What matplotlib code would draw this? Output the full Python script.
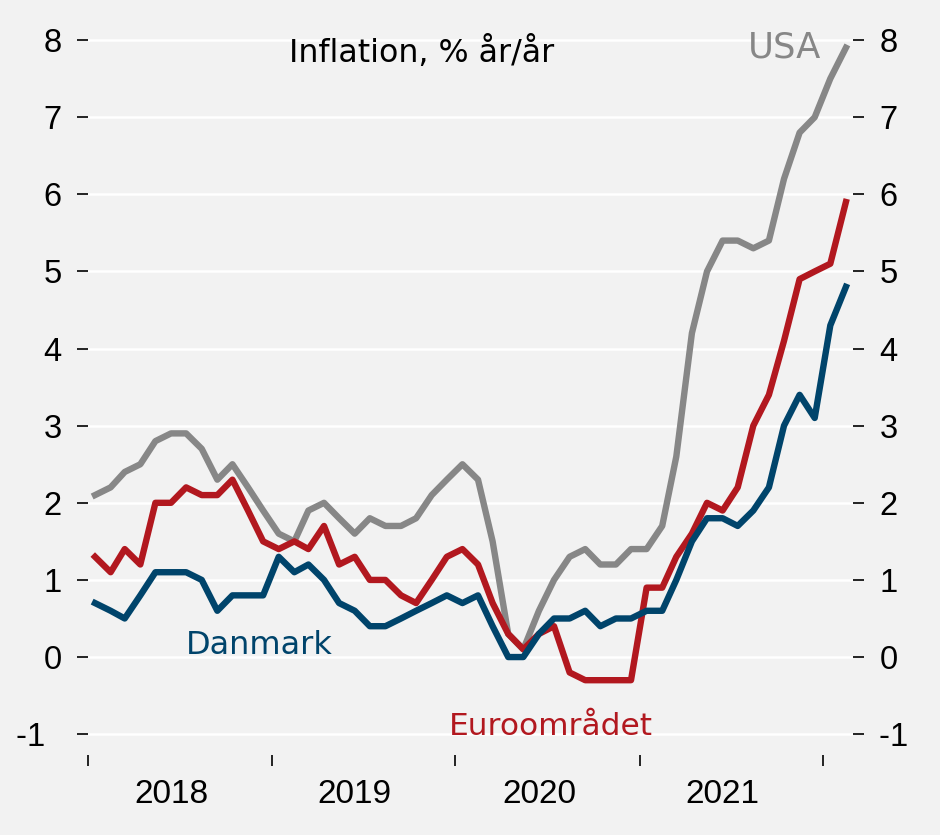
import matplotlib
matplotlib.use("Agg")
import matplotlib.pyplot as plt
import numpy as np
import pandas as pd

# Monthly inflation, % y/y, Jan 2018 - Feb 2022 (plotted mid-month).
months = pd.date_range("2018-01-01", periods=50, freq="MS") + pd.Timedelta(days=14)

usa = [2.1, 2.2, 2.4, 2.5, 2.8, 2.9, 2.9, 2.7, 2.3, 2.5, 2.2, 1.9,
       1.6, 1.5, 1.9, 2.0, 1.8, 1.6, 1.8, 1.7, 1.7, 1.8, 2.1, 2.3,
       2.5, 2.3, 1.5, 0.3, 0.1, 0.6, 1.0, 1.3, 1.4, 1.2, 1.2, 1.4,
       1.4, 1.7, 2.6, 4.2, 5.0, 5.4, 5.4, 5.3, 5.4, 6.2, 6.8, 7.0,
       7.5, 7.9]

euro = [1.3, 1.1, 1.4, 1.2, 2.0, 2.0, 2.2, 2.1, 2.1, 2.3, 1.9, 1.5,
        1.4, 1.5, 1.4, 1.7, 1.2, 1.3, 1.0, 1.0, 0.8, 0.7, 1.0, 1.3,
        1.4, 1.2, 0.7, 0.3, 0.1, 0.3, 0.4, -0.2, -0.3, -0.3, -0.3, -0.3,
        0.9, 0.9, 1.3, 1.6, 2.0, 1.9, 2.2, 3.0, 3.4, 4.1, 4.9, 5.0,
        5.1, 5.9]

dk = [0.7, 0.6, 0.5, 0.8, 1.1, 1.1, 1.1, 1.0, 0.6, 0.8, 0.8, 0.8,
      1.3, 1.1, 1.2, 1.0, 0.7, 0.6, 0.4, 0.4, 0.5, 0.6, 0.7, 0.8,
      0.7, 0.8, 0.4, 0.0, 0.0, 0.3, 0.5, 0.5, 0.6, 0.4, 0.5, 0.5,
      0.6, 0.6, 1.0, 1.5, 1.8, 1.8, 1.7, 1.9, 2.2, 3.0, 3.4, 3.1,
      4.3, 4.8]

years = [2018, 2019, 2020, 2021]
yticks = list(range(-1, 9))
# "-1" sits a little further out on the left axis in the original.
ytick_labels = ["-1\u2002"] + [str(v) for v in yticks[1:]]

BG = "#f2f2f2"
C_USA = "#878787"
C_EURO = "#b2181f"
C_DK = "#00446b"

plt.rcParams["axes.unicode_minus"] = False
plt.rcParams["font.family"] = ["Liberation Sans", "DejaVu Sans"]

fig = plt.figure(figsize=(9.4, 8.35), dpi=100, facecolor=BG)
ax = fig.add_axes([0.0936, 0.0958, 0.8138, 0.8747], facecolor=BG)

ax.plot(months, usa, color=C_USA, lw=4.6, zorder=3)
ax.plot(months, euro, color=C_EURO, lw=4.6, zorder=4)
ax.plot(months, dk, color=C_DK, lw=4.6, zorder=5)

# Axes limits.
ax.set_xlim(pd.Timestamp("2018-01-01"), pd.Timestamp("2022-03-01"))
ax.set_ylim(-1.27, 8.2)

# Grid (white horizontal lines).
ax.set_yticks(yticks)
ax.set_yticklabels(ytick_labels)
ax.grid(axis="y", color="white", lw=1.8, zorder=1)
ax.set_axisbelow(True)

for s in ax.spines.values():
    s.set_visible(False)

ax.tick_params(axis="y", which="both", left=True, right=True,
               labelleft=True, labelright=True, length=8, width=1.2,
               pad=11, labelsize=23.5, color="black")

# Year ticks at boundaries, labels in the middle.
ax.set_xticks([pd.Timestamp(f"{y}-01-01") for y in years + [2022]])
ax.set_xticks([pd.Timestamp(f"{y}-06-15") for y in years], minor=True)
ax.set_xticklabels([])
ax.set_xticklabels([str(y) for y in years], minor=True)
ax.tick_params(axis="x", which="major", length=8, width=1.2, color="black")
ax.tick_params(axis="x", which="minor", length=0, pad=17, labelsize=24)

# Series labels and title.
lbl = dict(family="DejaVu Sans", ha="left", va="baseline")
ax.text(pd.Timestamp("2018-07-14"), 0.04, "Danmark", color=C_DK,
        fontsize=23, **lbl)
ax.text(pd.Timestamp("2019-12-20"), -1.01, "Euroområdet", color=C_EURO,
        fontsize=22.5, **lbl)
ax.text(pd.Timestamp("2021-08-04"), 7.77, "USA", color=C_USA,
        fontsize=25.5, **lbl)
ax.text(pd.Timestamp("2019-02-04"), 7.72, "Inflation, % år/år", color="black",
        fontsize=22.8, **lbl)

fig.savefig("out.png", dpi=100, facecolor=BG)
